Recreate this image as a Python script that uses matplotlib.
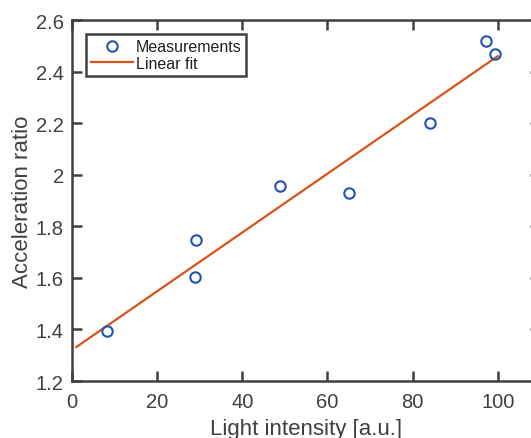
import numpy as np
import matplotlib
matplotlib.use('agg')
import matplotlib.pyplot as plt

# light intensity [a.u.] and measured acceleration ratio
intensity = [8.2, 28.8, 29.2, 48.9, 65.0, 84.2, 97.3, 99.4]
accel_ratio = [1.393, 1.604, 1.747, 1.957, 1.929, 2.199, 2.518, 2.469]
fit_range = [1.0, 100.0]

xticks = [0, 20, 40, 60, 80, 100]
yticks = [1.2, 1.4, 1.6, 1.8, 2.0, 2.2, 2.4, 2.6]
ytick_labels = ['1.2', '1.4', '1.6', '1.8', '2', '2.2', '2.4', '2.6']

grey = '#404040'
plt.rcParams['font.family'] = ['Liberation Sans', 'DejaVu Sans']

a, b = np.polyfit(intensity, accel_ratio, 1)
xf = np.array(fit_range)

fig = plt.figure(figsize=(5.31, 4.39), dpi=100)
ax = fig.add_axes([0.1356, 0.1298, 0.882, 0.8223])

ax.plot(intensity, accel_ratio, 'o', mfc='none', mec='#1F55B0', mew=1.5,
        ms=7.5, label='Measurements', zorder=3)
ax.plot(xf, a*xf + b, '-', color='#D95319', lw=1.6, label='Linear fit')

ax.set_xlim(0, 110)
ax.set_ylim(1.2, 2.6)
ax.set_xticks(xticks)
ax.set_yticks(yticks)
ax.set_yticklabels(ytick_labels)
ax.tick_params(direction='in', length=7, width=1.8, colors=grey,
               labelsize=14.5, top=True, right=True)
ax.tick_params(axis='x', pad=8)
ax.tick_params(axis='y', pad=6)
for s in ax.spines.values():
    s.set_linewidth(1.8)
    s.set_color(grey)

ax.set_xlabel('Light intensity [a.u.]', fontsize=16, color=grey, labelpad=5)
ax.set_ylabel('Acceleration ratio', fontsize=16, color=grey, labelpad=2)

leg = ax.legend(loc='upper left', fontsize=11.5, fancybox=False,
                edgecolor=grey, framealpha=1, borderaxespad=0.9,
                borderpad=0.3, handlelength=2.6, handletextpad=0.2,
                labelspacing=0.1)
leg.get_frame().set_linewidth(1.8)
for t in leg.get_texts():
    t.set_color('#202020')

plt.savefig('out.png', dpi=100)
